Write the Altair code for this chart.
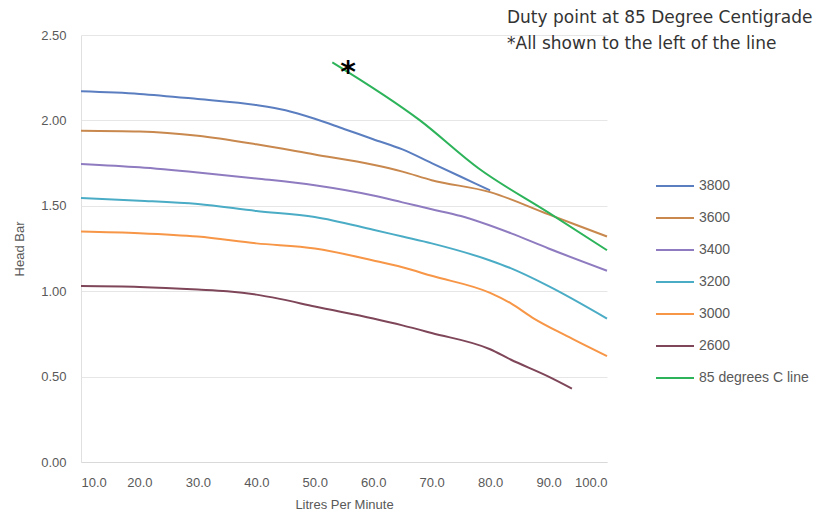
import altair as alt
import pandas as pd

series_names = ["3800", "3600", "3400", "3200", "3000", "2600", "85 degrees C line"]
series_colors = ["#5B7EC0", "#C8884E", "#8E7BC0", "#4BACC6", "#F79646", "#7E4658", "#2DB35A"]

x_3800 = [10, 20, 30, 40, 45, 50, 55, 60, 65, 70, 75, 80]
y_3800 = [2.17, 2.155, 2.125, 2.09, 2.06, 2.01, 1.95, 1.89, 1.83, 1.75, 1.67, 1.59]

x_3600 = [10, 20, 30, 40, 50, 60, 65, 70, 80, 90, 100]
y_3600 = [1.94, 1.935, 1.91, 1.86, 1.80, 1.74, 1.70, 1.65, 1.58, 1.45, 1.32]

x_3400 = [10, 20, 30, 40, 50, 60, 65, 70, 75, 83.5, 90, 100]
y_3400 = [1.745, 1.725, 1.695, 1.66, 1.62, 1.56, 1.52, 1.48, 1.44, 1.34, 1.25, 1.12]

x_3200 = [10, 20, 30, 40, 50, 60, 65, 70, 80, 83.5, 90, 100]
y_3200 = [1.545, 1.53, 1.51, 1.47, 1.435, 1.36, 1.32, 1.28, 1.18, 1.135, 1.03, 0.84]

x_3000 = [10, 20, 30, 40, 50, 60, 65, 70, 80, 83.5, 87.5, 93, 100]
y_3000 = [1.35, 1.34, 1.32, 1.28, 1.25, 1.18, 1.14, 1.09, 0.99, 0.93, 0.84, 0.74, 0.62]

x_2600 = [10, 20, 30, 35, 40, 44, 50, 60, 65, 70, 80, 83.5, 90, 94]
y_2600 = [1.03, 1.025, 1.01, 1.00, 0.98, 0.955, 0.91, 0.84, 0.80, 0.755, 0.66, 0.60, 0.50, 0.43]

x_green = [53, 68, 78, 90, 100]
y_green = [2.34, 2.0, 1.72, 1.46, 1.24]

x_ticks = [10, 20, 30, 40, 50, 60, 70, 80, 90, 100]
y_ticks = [0, 0.5, 1.0, 1.5, 2.0, 2.5]

note_line1 = "Duty point at 85 Degree Centigrade"
note_line2 = "*All shown to the left of the line"
star_x = [55.7]
star_y = [2.31]

rows = []
for name, xs, ys in [
    ("3800", x_3800, y_3800), ("3600", x_3600, y_3600), ("3400", x_3400, y_3400),
    ("3200", x_3200, y_3200), ("3000", x_3000, y_3000), ("2600", x_2600, y_2600),
    ("85 degrees C line", x_green, y_green),
]:
    for xv, yv in zip(xs, ys):
        rows.append({"series": name, "lpm": xv, "head": yv})
df = pd.DataFrame(rows)

label_font = "Liberation Sans"
grey = "#595959"

x_enc = alt.X(
    "lpm:Q", scale=alt.Scale(domain=[10, 100], nice=False, zero=False),
    axis=alt.Axis(values=x_ticks, format=".1f", title="Litres Per Minute",
                  grid=False, ticks=False, labelPadding=14, titlePadding=9,
                  domainColor="#D9D9D9", labelColor=grey, titleColor=grey,
                  labelFontSize=13, titleFontSize=13, labelFont=label_font,
                  titleFont=label_font, titleFontWeight="normal"))
y_enc = alt.Y(
    "head:Q", scale=alt.Scale(domain=[0, 2.5], nice=False),
    axis=alt.Axis(values=y_ticks, format=".2f", title="Head Bar",
                  grid=True, gridColor="#E6E6E6", ticks=False, labelPadding=15,
                  titlePadding=14, domainColor="#E0E0E0", labelColor=grey,
                  titleColor=grey, labelFontSize=13, titleFontSize=13,
                  labelFont=label_font, titleFont=label_font,
                  titleFontWeight="normal"))

lines = alt.Chart(df).mark_line(strokeWidth=2, interpolate="monotone").encode(
    x=x_enc,
    y=y_enc,
    color=alt.Color("series:N", scale=alt.Scale(domain=series_names, range=series_colors),
                    legend=alt.Legend(title=None, orient="none", legendX=574, legendY=131,
                                      symbolType="stroke", symbolSize=1444, symbolStrokeWidth=2,
                                      labelFontSize=14, labelFont=label_font,
                                      labelColor=grey, rowPadding=5, labelOffset=4)),
    order="lpm:Q",
)

star = alt.Chart(pd.DataFrame({"lpm": star_x, "head": star_y, "t": ["*"]})).mark_text(
    fontSize=30, fontWeight="bold", color="#000000", baseline="middle", dy=6, font="DejaVu Sans"
).encode(x="lpm:Q", y="head:Q", text="t:N")

note_style = dict(align="left", baseline="middle", fontSize=17, font="DejaVu Sans",
                  color="#333333")
note1 = alt.Chart(pd.DataFrame({"t": [note_line1]})).mark_text(**note_style).encode(
    x=alt.value(426), y=alt.value(-17), text="t:N")
note2 = alt.Chart(pd.DataFrame({"t": [note_line2]})).mark_text(**note_style).encode(
    x=alt.value(426), y=alt.value(9), text="t:N")

chart = alt.layer(lines, star, note1, note2).properties(
    width=526, height=427,
    autosize=alt.AutoSizeParams(type="none"),
    padding={"left": 73, "top": 27, "right": 221, "bottom": 52},
).configure_view(stroke=None)

chart.save("out.html", embed_options={"renderer": "svg", "actions": False})
